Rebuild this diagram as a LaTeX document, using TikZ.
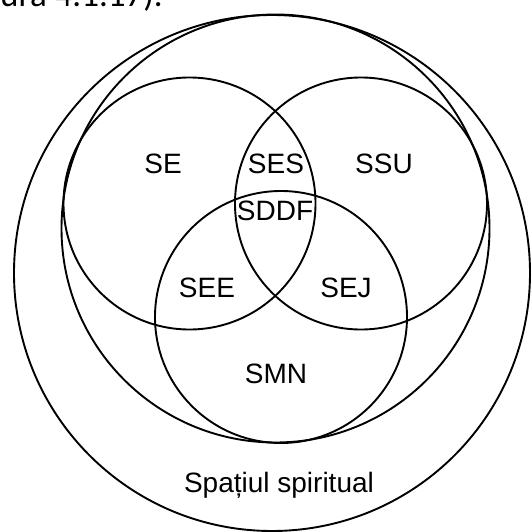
\documentclass[tikz,border=0pt]{standalone}
\usepackage{fontspec}
\setmainfont{Liberation Sans}
\newfontfamily\captionfont{Carlito}
\begin{document}
\begin{tikzpicture}[x=1pt,y=-1pt,
  ring/.style={draw=black, line width=1.9pt, circle, inner sep=0pt},
  setlabel/.style={anchor=base, inner sep=0pt, font=\fontsize{28}{28}\selectfont}]
\useasboundingbox (0,0) rectangle (531,532);
\begin{scope}
\clip (0,0) rectangle (531,532);
% running text of the page above the figure
\node[anchor=base east, inner sep=0pt, font=\captionfont\fontsize{35}{35}\selectfont]
  (caption) at (163,7) {ura 4.1.17).};
% spiritual space and the enclosing domain
\node[ring, minimum size=516pt] (spatiu) at (272,273) {};
\node[ring, minimum size=428pt] (domeniu) at (275.5,228.5) {};
% the three overlapping sets
\node[ring, minimum size=252pt] (se)  at (189.5,203.5) {};
\node[ring, minimum size=252pt] (ssu) at (361,203.5) {};
\node[ring, minimum size=252pt] (smn) at (281,317) {};
\end{scope}
% region labels
\node[setlabel] (lse)   at (163,173.5) {SE};
\node[setlabel] (lses)  at (276,173.5) {SES};
\node[setlabel] (lssu)  at (384,173.5) {SSU};
\node[setlabel] (lsddf) at (275,220) {SDDF};
\node[setlabel] (lsee)  at (207,297) {SEE};
\node[setlabel] (lsej)  at (346,297) {SEJ};
\node[setlabel] (lsmn)  at (276,383) {SMN};
\node[setlabel] (lspatiu) at (279,492) {Spațiul spiritual};
\end{tikzpicture}
\end{document}
